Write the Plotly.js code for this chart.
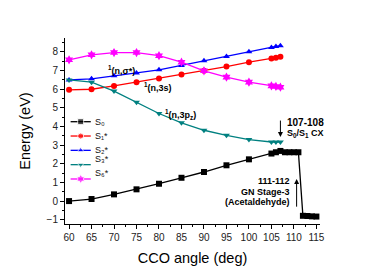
<!DOCTYPE html>
<html><head><meta charset="utf-8">
<script src="https://cdn.plot.ly/plotly-3.0.1.min.js"></script>
<style>html,body{margin:0;padding:0;background:#fff}#c{width:370px;height:278px}</style>
</head><body><div id="c"></div>
<script>
const angleMain = [60, 65, 70, 75, 80, 85, 90, 95, 100, 105, 106, 107];
const angleS0 = [60, 65, 70, 75, 80, 85, 90, 95, 100, 105, 106, 107, 108, 109, 110, 111, 112, 113, 114, 115];
const eS0 = [0, 0.11, 0.36, 0.63, 0.93, 1.25, 1.56, 1.92, 2.24, 2.55, 2.62, 2.69, 2.62, 2.62, 2.62, 2.62, -0.79, -0.80, -0.82, -0.83];
const eS1 = [5.97, 6.0, 6.18, 6.38, 6.58, 6.79, 6.99, 7.22, 7.45, 7.65, 7.69, 7.74];
const eS2 = [6.5, 6.56, 6.72, 6.87, 7.04, 7.28, 7.53, 7.76, 8.01, 8.24, 8.30, 8.33];
const eS3 = [6.5, 6.38, 5.9, 5.3, 4.7, 4.2, 3.8, 3.53, 3.3, 3.17, 3.17, 3.17];
const eS6 = [7.58, 7.85, 7.97, 7.97, 7.80, 7.45, 6.99, 6.65, 6.38, 6.18, 6.15, 6.11];
const names = ["S₀", "S₁*", "S₂*", "S₃*", "S₆*"];
const colors = ['#000000', '#ff0000', '#0000ff', '#008080', '#ff00ff'];
const symbols = ['square', 'circle', 'triangle-up', 'triangle-down', 'hexagram'];

const F = "Arial, 'Liberation Sans', sans-serif";
function tr(x, y, i) {
  return {x: x, y: y, name: names[i], type: 'scatter', mode: 'lines+markers', showlegend: false,
    line: {color: colors[i], width: 1.3}, marker: {color: colors[i], symbol: symbols[i], size: i === 4 ? 7 : 6}};
}
const data = [
  tr(angleS0, eS0, 0), tr(angleMain, eS1, 1), tr(angleMain, eS2, 2),
  tr(angleMain, eS3, 3), tr(angleMain, eS6, 4)
];
// legend samples drawn on a hidden overlay axis spanning the plot area
const legY = [0.550, 0.473, 0.396, 0.319, 0.242];
const annotations = [];
for (let i = 0; i < 5; i++) {
  data.push({x: [0.022, 0.0615, 0.101], y: [legY[i], legY[i], legY[i]], xaxis: 'x2', yaxis: 'y2',
    type: 'scatter', mode: 'lines+markers', showlegend: false, hoverinfo: 'skip',
    line: {color: colors[i], width: 1.3},
    marker: {color: colors[i], symbol: symbols[i], size: [0, i === 4 ? 7 : 6, 0]}});
  annotations.push({xref: 'paper', yref: 'paper', x: 0.112, y: legY[i], xanchor: 'left', borderpad: 0,
    text: names[i], showarrow: false, font: {family: F, size: 9, color: '#111'}});
}
const af = {family: F, size: 9, color: '#000'};
annotations.push(
  {x: 71.7, y: 7.03, text: '<b><sup>1</sup>(n,σ*)</b>', showarrow: false, font: af},
  {x: 79.7, y: 6.12, text: '<b><sup>1</sup>(n,3s)</b>', showarrow: false, font: af},
  {x: 84.7, y: 4.67, text: '<b><sup>1</sup>(n,3p<sub>z</sub>)</b>', showarrow: false, font: af},
  {x: 108.0, y: 4.2, text: '<b>107-108</b>', showarrow: false, xanchor: 'left', font: {family: F, size: 10, color: '#000'}},
  {x: 108.0, y: 3.65, text: '<b>S<sub>0</sub>/S<sub>1</sub> CX</b>', showarrow: false, xanchor: 'left', font: af},
  {x: 109.6, y: 1.07, text: '<b>111-112</b>', showarrow: false, xanchor: 'right', font: af},
  {x: 109.6, y: 0.48, text: '<b>GN Stage-3</b>', showarrow: false, xanchor: 'right', font: af},
  {x: 109.6, y: -0.05, text: '<b>(Acetaldehyde)</b>', showarrow: false, xanchor: 'right', font: af},
  {x: 107.0, y: 3.44, ax: 107.0, ay: 4.4, axref: 'x', ayref: 'y', text: '', showarrow: true,
    arrowhead: 2, arrowsize: 1, arrowwidth: 1, arrowcolor: '#000'},
  {x: 110.6, y: 1.18, ax: 110.6, ay: -0.38, axref: 'x', ayref: 'y', text: '', showarrow: true,
    arrowhead: 2, arrowsize: 1, arrowwidth: 1, arrowcolor: '#000'}
);
const layout = {
  width: 370, height: 278,
  margin: {l: 65, r: 50, t: 38, b: 54},
  paper_bgcolor: '#fff', plot_bgcolor: '#fff',
  font: {family: F, color: '#000'},
  showlegend: false,
  xaxis: {range: [59.1, 115.8], tickvals: [60,65,70,75,80,85,90,95,100,105,110,115],
    ticks: 'outside', ticklen: 4, tickwidth: 1, tickcolor: '#000',
    minor: {dtick: 2.5, ticks: 'outside', ticklen: 2, tickcolor: '#000'},
    showline: true, linecolor: '#000', linewidth: 1, showgrid: false, zeroline: false,
    tickfont: {family: F, size: 10, color: '#222'},
    title: {text: 'CCO angle (deg)', font: {family: F, size: 14.5, color: '#000'}, standoff: 10}},
  yaxis: {range: [-1.23, 8.75], tickvals: [-1,0,1,2,3,4,5,6,7,8],
    ticks: 'outside', ticklen: 4, tickwidth: 1, tickcolor: '#000',
    minor: {dtick: 0.5, ticks: 'outside', ticklen: 2, tickcolor: '#000'},
    showline: true, linecolor: '#000', linewidth: 1, showgrid: false, zeroline: false,
    tickfont: {family: F, size: 10, color: '#222'},
    title: {text: 'Energy (eV)', font: {family: F, size: 14.5, color: '#000'}, standoff: 12}},
  xaxis2: {overlaying: 'x', range: [0, 1], visible: false, fixedrange: true},
  yaxis2: {overlaying: 'y', range: [0, 1], visible: false, fixedrange: true},
  annotations: annotations
};
Plotly.newPlot('c', data, layout, {displayModeBar: false, staticPlot: true});
</script></body></html>
